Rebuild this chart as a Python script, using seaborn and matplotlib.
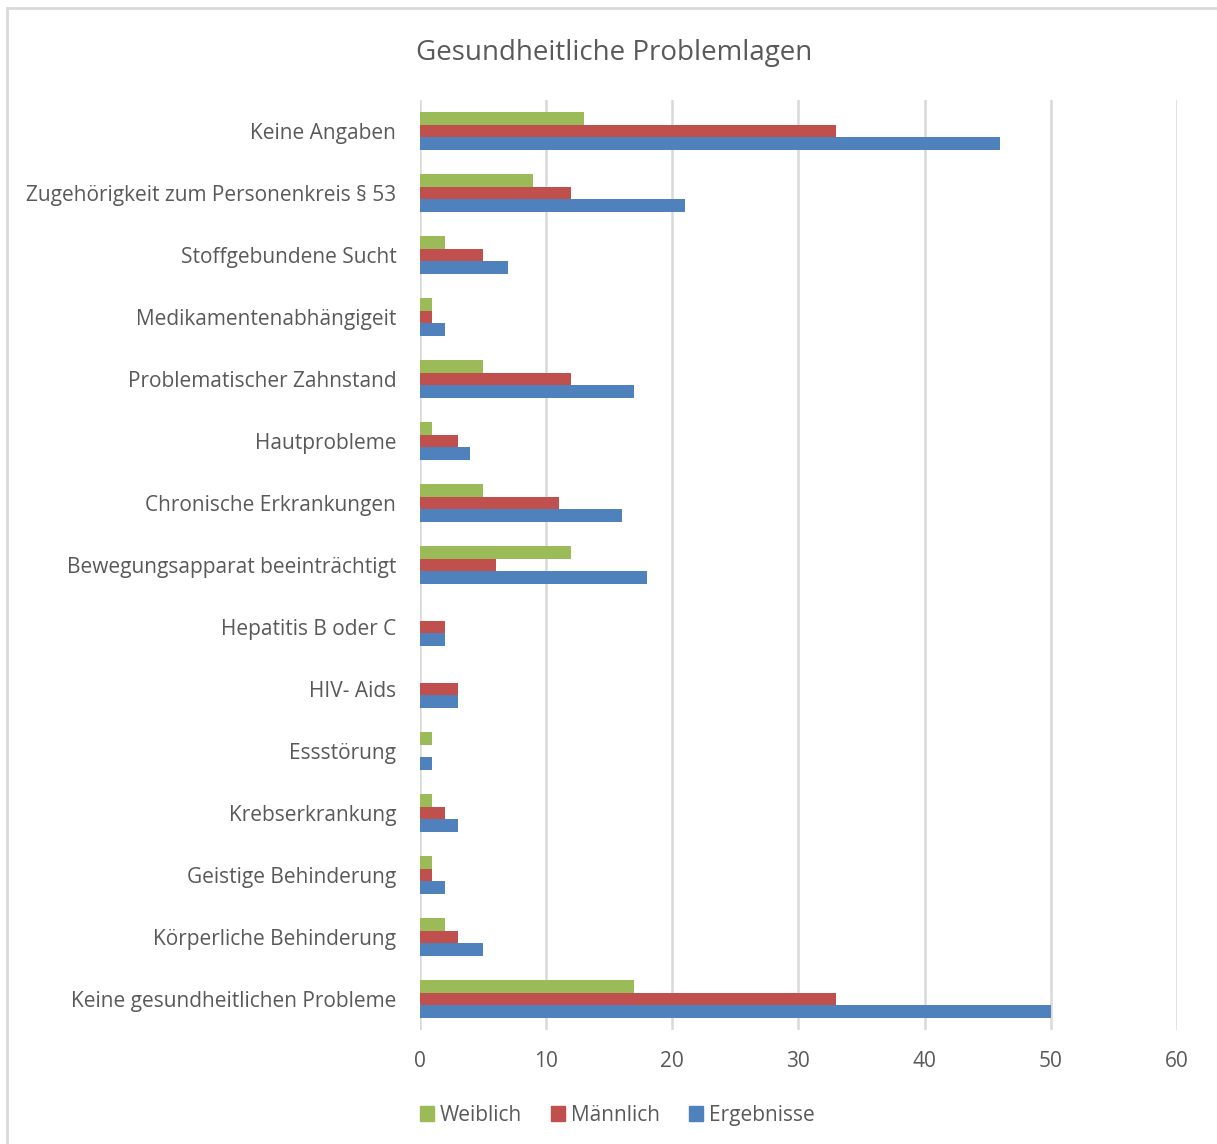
import seaborn as sns
import matplotlib.pyplot as plt
import matplotlib.patches as mpatches
import pandas as pd

categories = [
    "Keine Angaben",
    "Zugehörigkeit zum Personenkreis § 53",
    "Stoffgebundene Sucht",
    "Medikamentenabhängigeit",
    "Problematischer Zahnstand",
    "Hautprobleme",
    "Chronische Erkrankungen",
    "Bewegungsapparat beeinträchtigt",
    "Hepatitis B oder C",
    "HIV- Aids",
    "Essstörung",
    "Krebserkrankung",
    "Geistige Behinderung",
    "Körperliche Behinderung",
    "Keine gesundheitlichen Probleme",
]
weiblich = [13, 9, 2, 1, 5, 1, 5, 12, 0, 0, 1, 1, 1, 2, 17]
maennlich = [33, 12, 5, 1, 12, 3, 11, 6, 2, 3, 0, 2, 1, 3, 33]
ergebnisse = [46, 21, 7, 2, 17, 4, 16, 18, 2, 3, 1, 3, 2, 5, 50]
series_names = ["Weiblich", "Männlich", "Ergebnisse"]
colors = ["#9BBB59", "#C0504D", "#4F81BD"]

rows = []
for name, vals in zip(series_names, [weiblich, maennlich, ergebnisse]):
    for cat, v in zip(categories, vals):
        rows.append({"Kategorie": cat, "Serie": name, "Wert": v})
df = pd.DataFrame(rows)

sns.set_style("white")
plt.rcParams["font.family"] = ["Open Sans", "DejaVu Sans"]
text_color = "#595959"

fig = plt.figure(figsize=(12.17, 11.44), dpi=100)
ax = fig.add_axes([0.345, 0.0997, 0.622, 0.8129])

sns.barplot(
    data=df, y="Kategorie", x="Wert", hue="Serie",
    order=categories, hue_order=series_names, palette=colors,
    orient="h", width=0.62, saturation=1, ax=ax, legend=False,
    linewidth=0,
)

ax.set_xlim(0, 60)
ax.set_xticks(range(0, 61, 10))
ax.grid(axis="x", color="#D9D9D9", linewidth=1.8)
ax.set_axisbelow(True)
for s in ax.spines.values():
    s.set_visible(False)
ax.set_xlabel("")
ax.set_ylabel("")
ax.tick_params(axis="both", length=0, labelsize=15, labelcolor=text_color)
ax.tick_params(axis="x", pad=15)
ax.tick_params(axis="y", pad=17)

fig.suptitle("Gesundheitliche Problemlagen", x=0.505, y=0.966, fontsize=20,
             color=text_color)

handles = [mpatches.Patch(color=c, label=n) for c, n in zip(colors, series_names)]
fig.legend(handles=handles, loc="center", bbox_to_anchor=(0.507, 0.025), ncol=3,
           frameon=False, fontsize=15, labelcolor=text_color,
           handlelength=0.7, handleheight=0.7, handletextpad=0.25, columnspacing=1.4)

fig.patches.append(mpatches.Rectangle((7 / 1217, -0.01), 1.0, 1 - 8 / 1144 + 0.01,
                                      transform=fig.transFigure, fill=False,
                                      edgecolor="#D9D9D9", linewidth=2))

fig.savefig("out.png", dpi=100)
